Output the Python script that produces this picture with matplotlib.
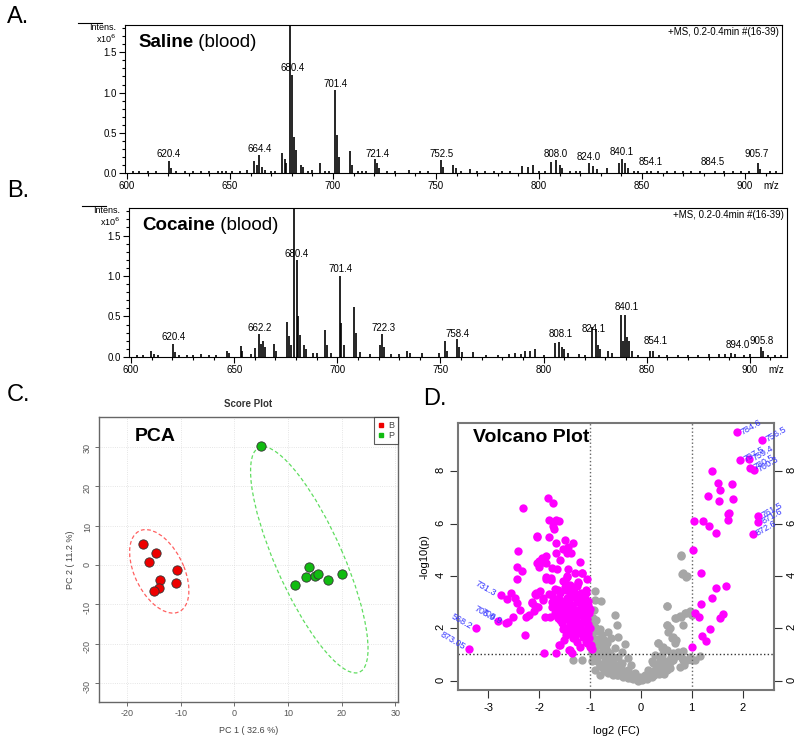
import matplotlib
matplotlib.use('Agg')
import matplotlib.pyplot as plt
import matplotlib.ticker as mticker
from matplotlib.patches import Ellipse
from matplotlib.lines import Line2D
import numpy as np

plt.rcParams['font.family'] = ['Liberation Sans', 'DejaVu Sans']
plt.rcParams['axes.unicode_minus'] = False

# ---------------- A. saline spectrum (m/z, intensity x10^6) ----------------
saline_mz = [603, 606, 610.0, 614, 620.3, 621.5, 624, 628, 632, 636, 640, 644, 646, 648,
             651, 655, 658, 661.6, 663.0, 664.2, 665.5, 667, 670, 672, 675.4, 676.5, 677.3,
             679.0, 680.3, 681.2, 682.0, 684.5, 685.5, 688, 690, 693.8, 696, 698, 701.1,
             702.0, 703, 708.2, 709, 712, 714, 716, 720.6, 721.5, 722.5, 726, 730, 737,
             742, 746, 752.6, 753.5, 758.3, 759.5, 762, 766.5, 770, 774, 778, 782, 786,
             791.8, 794.6, 797.0, 800, 803, 806.0, 808.3, 810.0, 811, 815, 818, 820, 824.4,
             826.4, 828, 832.9, 838.8, 840.5, 841.7, 843, 846, 848, 852.3, 854.4, 858, 862,
             866, 870, 874, 878, 885.4, 890, 894, 898, 902, 906.3, 907.5, 912, 915]
saline_int = [0.02, 0.02, 0.03, 0.02, 0.15, 0.06, 0.03, 0.02, 0.02, 0.03, 0.02, 0.03, 0.02, 0.03,
              0.03, 0.03, 0.04, 0.15, 0.10, 0.22, 0.08, 0.04, 0.02, 0.02, 0.25, 0.17, 0.12,
              2.0, 1.22, 0.45, 0.28, 0.10, 0.08, 0.03, 0.04, 0.13, 0.03, 0.02, 1.03,
              0.47, 0.20, 0.27, 0.10, 0.02, 0.03, 0.02, 0.17, 0.13, 0.06, 0.02, 0.03, 0.04,
              0.02, 0.03, 0.16, 0.08, 0.10, 0.06, 0.02, 0.05, 0.02, 0.02, 0.03, 0.02, 0.03,
              0.09, 0.07, 0.10, 0.02, 0.03, 0.14, 0.16, 0.10, 0.06, 0.03, 0.02, 0.03, 0.12,
              0.09, 0.05, 0.06, 0.13, 0.17, 0.12, 0.06, 0.03, 0.02, 0.03, 0.03, 0.02, 0.02,
              0.03, 0.02, 0.02, 0.02, 0.03, 0.02, 0.02, 0.03, 0.02, 0.12, 0.05, 0.02, 0.02]
saline_lbl = [620.4, 664.4, 680.4, 701.4, 721.4, 752.5, 808.0, 824.0, 840.1, 854.1, 884.5, 905.7]
saline_lbl_y = [0.17, 0.24, 1.24, 1.04, 0.18, 0.18, 0.18, 0.14, 0.20, 0.08, 0.075, 0.17]

# ---------------- B. cocaine spectrum ----------------
cocaine_mz = [603, 606, 609.7, 611, 613, 620.1, 621.2, 623, 627, 630, 633.9, 638, 641, 646.3,
              647.5, 653.1, 654, 658, 660.0, 662.0, 663.0, 664.1, 665.0, 669.3, 670.3, 675.6,
              676.6, 677.6, 679.0, 680.3, 681.1, 681.9, 683.8, 684.8, 688, 690, 693.9, 694.8,
              697, 701.1, 702.0, 703, 707.9, 708.9, 711, 716, 720.5, 721.8, 722.8, 726, 730,
              734.0, 735, 741.2, 749.3, 752.0, 753, 758.1, 759.2, 760.5, 765.7, 772, 778, 783,
              786, 789, 791.2, 793.6, 796.0, 800, 805.3, 807.7, 808.8, 810.0, 812, 817, 820,
              823.3, 825.4, 826.4, 827.5, 831.4, 833, 837.5, 838.5, 839.5, 840.5, 841.5, 843,
              846, 851.5, 853.1, 856, 860, 865, 870, 875, 880, 885, 888, 891, 893, 897, 900,
              905.2, 906.5, 909, 912, 915]
cocaine_int = [0.02, 0.02, 0.08, 0.04, 0.03, 0.16, 0.06, 0.03, 0.02, 0.03, 0.04, 0.03, 0.03, 0.07,
               0.05, 0.14, 0.08, 0.04, 0.11, 0.28, 0.16, 0.20, 0.12, 0.16, 0.07, 0.43,
               0.26, 0.15, 2.0, 1.20, 0.50, 0.27, 0.15, 0.10, 0.05, 0.05, 0.33, 0.15,
               0.05, 1.00, 0.42, 0.15, 0.62, 0.30, 0.06, 0.04, 0.15, 0.28, 0.12, 0.04, 0.04,
               0.08, 0.05, 0.05, 0.05, 0.20, 0.08, 0.22, 0.12, 0.06, 0.06, 0.03, 0.03, 0.04,
               0.05, 0.04, 0.08, 0.07, 0.10, 0.03, 0.17, 0.18, 0.12, 0.10, 0.05, 0.04, 0.03,
               0.37, 0.35, 0.15, 0.10, 0.08, 0.05, 0.52, 0.20, 0.52, 0.25, 0.20, 0.08,
               0.03, 0.08, 0.08, 0.03, 0.03, 0.03, 0.03, 0.03, 0.04, 0.04, 0.04, 0.05, 0.04, 0.03, 0.04,
               0.12, 0.08, 0.03, 0.02, 0.02]
cocaine_lbl = [620.4, 662.2, 680.4, 701.4, 722.3, 758.4, 808.1, 824.1, 840.1, 854.1, 894.0, 905.8]
cocaine_lbl_y = [0.18, 0.30, 1.21, 1.03, 0.30, 0.22, 0.22, 0.28, 0.55, 0.13, 0.09, 0.14]

# ---------------- C. PCA scores ----------------
pca_b_x = [-17.0, -14.6, -15.9, -10.6, -13.9, -10.8, -14.1, -14.9]
pca_b_y = [5.4, 3.0, 0.7, -1.2, -3.8, -4.5, -5.8, -6.6]
pca_p_x = [5.0, 13.9, 11.4, 13.4, 15.0, 15.6, 17.5, 20.0]
pca_p_y = [30.2, -0.5, -5.1, -3.0, -2.8, -2.3, -3.7, -2.2]

# ---------------- D. volcano ----------------
sig_x = [1.90, 2.38, 1.96, 2.13, 2.15, 2.22, 1.39, 1.52, 1.80, 1.33, 1.56, 1.54, 1.81, 1.73, 1.71,
         1.72, 1.04, 1.23, 1.34, 1.48, 2.31, 2.31, 2.20, 1.02, 1.18, 1.67, 1.48, 1.40, 1.18, 1.07,
         1.15, 1.61, 1.56, 1.36, 1.20, 1.29, 1.01,
         -2.32, -2.41, -2.43, -2.35, -2.43, -2.76, -2.63, -2.55, -2.48, -2.43, -2.37, -2.15, -2.09,
         -2.27, -2.20, -2.10, -2.51, -2.61, -2.66, -2.81, -3.25, -3.38, -2.28,
         -1.82, -1.73, -1.81, -1.67, -1.61, -1.73, -1.71, -2.04, -1.81, -1.67, -1.50, -1.33, -1.43,
         -1.53, -1.37, -1.46, -1.67, -1.87, -1.59, -1.20, -2.05, -1.93, -2.00, -1.74, -1.66, -1.43,
         -1.15, -1.87, -1.77, -1.45, -1.54, -1.23, -1.07, -1.40, -1.50, -1.63, -1.99, -2.07, -1.75,
         -1.59, -1.40, -1.31, -1.09, -1.92, -2.15, -1.75, -1.60, -1.46, -1.20, -1.04, -2.09, -1.74,
         -1.63, -1.50, -1.35, -1.17, -1.28, -1.14, -1.00, -1.69, -1.56, -1.43, -1.21, -1.08, -1.79,
         -1.63, -1.50, -1.36, -1.27, -1.07, -1.56, -1.40, -1.20, -1.04, -1.53, -1.37, -1.17, -1.07,
         -1.48, -1.31, -1.14, -1.02, -1.34, -1.26, -1.09, -0.99, -1.61, -1.52, -1.40, -1.36, -1.20,
         -1.91, -1.67, -0.97,
         -2.04, -2.01, -1.96, -1.94, -1.87, -2.07, -2.02, -1.93, -1.89, -1.76, -1.86, -1.59, -1.41,
         -1.30, -1.17, -1.07, -1.00, -1.24, -1.16,
         -1.50, -1.45, -1.35, -1.25, -1.55, -1.65, -1.30, -1.20, -1.10, -1.15, -1.30, -1.45, -1.60,
         -1.70, -1.80, -1.35, -1.25, -1.10, -1.05, -1.00, -1.05, -1.25, -1.40, -1.55, -1.65, -1.70,
         -1.50, -1.45, -1.30,
         -1.12, -1.18, -1.22, -1.32, -1.38, -1.42, -1.48, -1.52, -1.58, -1.62, -1.12, -1.28, -1.34,
         -1.46, -1.02, -1.08]
sig_y = [9.48, 9.20, 8.42, 8.46, 8.13, 8.05, 8.02, 7.56, 7.52, 7.05, 7.30, 6.86, 6.93, 6.42, 6.37,
         6.13, 6.11, 6.09, 5.92, 5.62, 6.30, 6.07, 5.59, 4.99, 4.10, 3.61, 3.54, 3.17, 2.94, 2.60,
         2.43, 2.53, 2.40, 1.96, 1.69, 1.51, 1.27,
         6.58, 4.95, 4.35, 4.20, 3.87, 3.27, 3.12, 3.36, 3.14, 2.95, 2.70, 2.98, 3.31,
         2.44, 2.51, 2.67, 2.44, 2.23, 2.19, 2.29, 2.00, 1.20, 1.74,
         6.96, 6.79, 6.13, 6.13, 6.11, 5.90, 5.78, 5.50, 5.50, 5.27, 5.39, 5.27, 5.09,
         5.01, 4.86, 4.86, 4.86, 4.76, 4.61, 4.54, 4.48, 4.54, 4.35, 4.29, 4.25, 4.25,
         4.12, 3.97, 3.91, 3.97, 3.82, 3.78, 3.87, 3.65, 3.59, 3.46, 3.44, 3.27, 3.27,
         3.33, 3.33, 3.40, 3.46, 3.14, 3.02, 3.02, 3.08, 3.14, 3.21, 3.05, 2.85, 2.82,
         2.85, 2.89, 2.82, 2.95, 2.70, 2.72, 2.72, 2.60, 2.63, 2.57, 2.51, 2.57, 2.44,
         2.38, 2.34, 2.38, 2.32, 2.34, 2.19, 2.16, 2.19, 2.16, 1.96, 2.00, 1.93, 1.96,
         1.74, 1.74, 1.68, 1.62, 1.62, 1.49, 1.49, 1.36, 1.36, 1.55, 1.17, 1.07, 1.30,
         1.04, 1.04, 1.20,
         5.52, 4.58, 4.58, 4.67, 4.48, 3.33, 2.80, 3.08, 2.44, 3.84, 3.88, 1.36, 1.15,
         1.68, 1.81, 1.42, 1.30, 3.74, 4.10,
         3.00, 2.70, 2.90, 3.00, 2.90, 3.10, 2.50, 2.75, 2.50, 2.20, 2.10, 2.00, 2.30,
         2.80, 3.30, 3.50, 3.60, 3.10, 2.90, 2.00, 1.80, 1.85, 1.85, 2.50, 2.45, 3.50,
         3.80, 4.00, 4.10,
         2.35, 3.35, 2.05, 2.25, 2.60, 3.10, 3.45, 2.65, 2.75, 2.95, 1.70, 1.95, 3.20,
         2.45, 2.60, 3.35]
ns_x = [0.78, 0.83, 0.90, 0.51, 0.89, 0.98, 0.69, 0.78, 0.51, 0.57, 0.62, 0.70, 0.34, 0.44, 0.51,
        0.82, 0.96, 1.06, 1.16, 1.00, 0.24, 0.14, 0.37, 0.51, 0.64, 0.57, 0.31, 0.08, 0.01, 0.21,
        0.44, 0.77, 0.83, 1.00,
        -0.91, -0.91, -0.79, -0.51, -0.48, -0.91, -0.81, -0.64, -0.77, -0.58, -0.45, -0.32, -0.71,
        -0.84, -0.94, -0.51, -0.38, -0.64, -0.81, -0.45, -0.25, -0.87, -0.71, -0.54, -0.38, -0.19,
        -0.91, -0.74, -0.58, -0.41, -0.25, -0.12, -0.02, 0.08, -0.81, -0.64, -0.48, -0.32, -0.19,
        -0.06, -0.97, -0.97, -0.97, -0.94, 0.14, 0.24, 0.31, 0.38, 0.47, 0.51, 0.33, 0.42, 0.51,
        0.54, 0.64, 0.67, 0.74, 0.80, 0.51, 0.67, 0.77, 0.83, 0.87, 0.97, 0.80, 0.89, 0.79, 0.41,
        0.60, 0.28, 0.21, 0.64,
        -0.60, -0.50, -0.40, -0.30, -0.20, -0.10, 0.00, 0.05, 0.10, 0.20, 0.30, 0.35, -0.70, -0.60,
        -0.90, -0.85, -0.95, -0.92, -0.88, -0.75, -0.80, -0.70, -0.55, -0.45, -0.35, -0.25, -0.15,
        0.45, 0.55, 0.60, 0.70, 0.85, 0.90, -1.34, -1.16,
        -0.95, -0.90, -0.85, -0.80, -0.75, -0.70, -0.65, -0.60, -0.55, -0.50, -0.45, -0.40, -0.35,
        -0.30, -0.28, -0.22, -0.18, -0.12, -0.08, -0.04, 0.02, 0.06, 0.12, 0.16, 0.22, 0.26, 0.30,
        0.36, 0.40, 0.46, -0.92, -0.86, -0.78, -0.68, -0.62, -0.52, -0.42, -0.96, -0.88, -0.72,
        -0.66, -0.56]
ns_y = [4.78, 4.12, 4.01, 2.84, 2.57, 2.53, 2.38, 2.42, 2.12, 2.00, 1.62, 1.55, 1.42, 1.30, 1.17,
        1.13, 0.92, 0.79, 0.94, 0.77, 0.66, 0.41, 0.79, 0.73, 0.79, 0.47, 0.41, 0.22, 0.09, 0.28,
        0.34, 0.53, 0.79, 2.50,
        3.42, 3.08, 3.04, 2.51, 2.13, 2.06, 1.97, 1.85, 1.75, 1.64, 1.68, 1.39, 1.36,
        1.43, 1.23, 1.23, 1.10, 1.10, 0.98, 0.92, 0.85, 0.73, 0.75, 0.73, 0.66, 0.60,
        0.41, 0.47, 0.41, 0.41, 0.41, 0.28, 0.15, 0.09, 0.22, 0.28, 0.22, 0.22, 0.09,
        0.00, 0.73, 1.10, 1.62, 1.87, 0.22, 0.35, 0.60, 0.41, 0.60, 0.41, 1.43, 1.23, 2.13,
        1.87, 1.68, 1.43, 1.10, 0.85, 2.84, 2.39, 2.45, 2.13, 2.58, 2.64, 4.07, 3.97, 4.77, 0.98,
        0.73, 0.98, 0.73, 1.04,
        0.50, 0.60, 0.50, 0.30, 0.20, 0.10, 0.05, 0.05, 0.15, 0.25, 0.30, 0.50, 0.90, 1.00,
        1.30, 1.60, 2.40, 2.70, 1.90, 1.20, 0.60, 0.35, 0.20, 0.30, 0.15, 0.10, 0.05,
        0.25, 0.60, 0.90, 0.95, 0.60, 0.80, 0.79, 0.79,
        0.95, 0.85, 1.05, 0.55, 0.65, 0.45, 0.75, 0.35, 0.45, 0.30, 0.20, 0.35, 0.25,
        0.18, 0.30, 0.12, 0.20, 0.08, 0.15, 0.02, 0.03, 0.08, 0.06, 0.15, 0.12, 0.20, 0.45,
        0.25, 0.55, 0.45, 1.55, 1.35, 1.45, 1.20, 0.65, 0.55, 0.62, 2.20, 2.30, 1.55,
        1.45, 0.95]

# labelled features
right_lbl = ['784.6', '756.5', '797.5', '759.4', '780.5', '760.3', '761.5', '871.6', '872.6']
right_lbl_x = [1.90, 2.38, 1.96, 2.13, 2.15, 2.22, 2.31, 2.31, 2.20]
right_lbl_y = [9.48, 9.20, 8.42, 8.46, 8.13, 8.05, 6.30, 6.07, 5.59]
left_lbl = ['731.3', '705.9', '708.9', '568.2', '873.05']
left_lbl_x = [-2.78, -2.81, -2.66, -3.25, -3.38]
left_lbl_y = [3.26, 2.29, 2.19, 2.00, 1.20]


fig = plt.figure(figsize=(8, 7.47), dpi=100)


def draw_spectrum(ax, mz, inten, lbl, lbl_y, name):
    ax.vlines(mz, 0, inten, color='black', lw=1.2)
    ax.set_xlim(599, 918)
    ax.set_ylim(0, 1.84)
    ax.xaxis.set_major_locator(mticker.MultipleLocator(50))
    ax.xaxis.set_minor_locator(mticker.MultipleLocator(10))
    ax.yaxis.set_major_locator(mticker.MultipleLocator(0.5))
    ax.yaxis.set_minor_locator(mticker.MultipleLocator(0.1))
    ax.yaxis.set_major_formatter(mticker.FormatStrFormatter('%.1f'))
    ax.tick_params(which='both', direction='out', labelsize=7, width=0.8, pad=2)
    ax.tick_params(which='major', length=4)
    ax.tick_params(which='minor', length=2)
    for s in ax.spines.values():
        s.set_linewidth(0.8)
    for x, y in zip(lbl, lbl_y):
        ax.text(x, y, f'{x:.1f}', ha='center', va='bottom', fontsize=7)
    ax.text(0.995, 0.985, '+MS, 0.2-0.4min #(16-39)', transform=ax.transAxes,
            ha='right', va='top', fontsize=7)
    ax.text(0.984, -0.085, 'm/z', transform=ax.transAxes, ha='center', va='center', fontsize=7)
    ax.text(-0.013, 0.985, 'Intens.', transform=ax.transAxes, ha='right', va='center', fontsize=6.5)
    ax.text(-0.013, 0.91, 'x10$^6$', transform=ax.transAxes, ha='right', va='center', fontsize=6.5)
    ax.plot([-0.072, -0.035], [1.015, 1.015], transform=ax.transAxes, color='black',
            lw=0.8, clip_on=False)
    t = ax.text(0.02, 0.885, name, transform=ax.transAxes, ha='left', va='center',
                fontsize=13.5, fontweight='bold')
    ax.annotate(' (blood)', xy=(1, 0), xycoords=t, ha='left', va='bottom', fontsize=13.5)


ax_a = fig.add_axes([0.15625, 0.7684, 0.82125, 0.1981])
draw_spectrum(ax_a, saline_mz, saline_int, saline_lbl, saline_lbl_y, 'Saline')
ax_b = fig.add_axes([0.16125, 0.5221, 0.8225, 0.1995])
draw_spectrum(ax_b, cocaine_mz, cocaine_int, cocaine_lbl, cocaine_lbl_y, 'Cocaine')

# ---------------- PCA ----------------
ax_c = fig.add_axes([0.12375, 0.0602, 0.37375, 0.3815])


def conf_ellipse(ax, x, y, color):
    # 95% ellipse from the group covariance
    cov = np.cov(x, y)
    vals, vecs = np.linalg.eigh(cov)
    order = vals.argsort()[::-1]
    vals, vecs = vals[order], vecs[:, order]
    angle = np.degrees(np.arctan2(vecs[1, 0], vecs[0, 0]))
    w, h = 2 * np.sqrt(5.991 * vals)
    ax.add_patch(Ellipse((np.mean(x), np.mean(y)), w, h, angle=angle, fill=False,
                         ls=(0, (3, 2)), color=color, lw=0.9))


conf_ellipse(ax_c, pca_b_x, pca_b_y, '#ff6060')
conf_ellipse(ax_c, pca_p_x, pca_p_y, '#60dd60')
ax_c.scatter(pca_b_x, pca_b_y, s=45, color='#ee0000', edgecolors='#333333', linewidths=0.6, zorder=3)
ax_c.scatter(pca_p_x, pca_p_y, s=45, color='#11bb11', edgecolors='#333333', linewidths=0.6, zorder=3)
ax_c.set_xlim(-25.2, 30.5)
ax_c.set_ylim(-34.8, 37.6)
ax_c.set_xticks([-20, -10, 0, 10, 20, 30])
ax_c.set_yticks([-30, -20, -10, 0, 10, 20, 30])
ax_c.grid(True, color='#dddddd', lw=0.6, ls=':')
ax_c.set_axisbelow(True)
ax_c.tick_params(labelsize=6.5, colors='#555555', length=3, width=0.6, pad=2)
ax_c.tick_params(axis='y', labelrotation=90)
for s in ax_c.spines.values():
    s.set_color('#666666')
    s.set_linewidth(1.0)
ax_c.set_title('Score Plot', fontsize=7, fontweight='bold', color='#333333', pad=7)
ax_c.set_xlabel('PC 1 ( 32.6 %)', fontsize=6.5, color='#444444', labelpad=6)
ax_c.set_ylabel('PC 2 ( 11.2 %)', fontsize=6.5, color='#444444', labelpad=6)
ax_c.text(0.12, 0.93, 'PCA', transform=ax_c.transAxes, fontsize=14, fontweight='bold',
          ha='left', va='center')
handles = [Line2D([], [], ls='none', marker='s', ms=3, color='#ee0000', label='B'),
           Line2D([], [], ls='none', marker='s', ms=3, color='#11bb11', label='P')]
leg = ax_c.legend(handles=handles, loc='upper right', fontsize=6.5, borderaxespad=0,
                  fancybox=False, edgecolor='#333333', handlelength=0.8, handletextpad=0.4,
                  borderpad=0.4, labelspacing=0.2)
leg.get_frame().set_linewidth(0.8)
for txt in leg.get_texts():
    txt.set_color('#444444')

# ---------------- Volcano ----------------
ax_d = fig.add_axes([0.5725, 0.0763, 0.395, 0.3574])
ax_d.scatter(ns_x, ns_y, s=36, color='#a6a6a6', linewidths=0, zorder=2)
ax_d.scatter(sig_x, sig_y, s=36, color='#ff00ff', linewidths=0, zorder=3)
ax_d.axvline(-1, color='#666666', ls=':', lw=1.0)
ax_d.axvline(1, color='#666666', ls=':', lw=1.0)
ax_d.axhline(1, color='#333333', ls=':', lw=1.0)
ax_d.set_xlim(-3.6, 2.62)
ax_d.set_ylim(-0.36, 9.84)
ax_d.set_xticks([-3, -2, -1, 0, 1, 2])
ax_d.set_yticks([0, 2, 4, 6, 8])
ax_d.tick_params(labelsize=8, length=6, width=0.8, color='#333333', pad=3,
                 right=True, labelright=True)
ax_d.tick_params(axis='y', labelrotation=90)
for s in ax_d.spines.values():
    s.set_color('#777777')
    s.set_linewidth(1.5)
ax_d.set_xlabel('log2 (FC)', fontsize=8, labelpad=10)
ax_d.set_ylabel('-log10(p)', fontsize=8, labelpad=4)
ax_d.text(0.047, 0.947, 'Volcano Plot', transform=ax_d.transAxes, fontsize=14,
          fontweight='bold', ha='left', va='center', zorder=5)
for s, x, y in zip(right_lbl, right_lbl_x, right_lbl_y):
    ax_d.annotate(s, (x, y), xytext=(3, 0), textcoords='offset points', rotation=30,
                  rotation_mode='anchor', ha='left', va='center', fontsize=6.5,
                  color='#3333ff', annotation_clip=False)
for s, x, y in zip(left_lbl, left_lbl_x, left_lbl_y):
    ax_d.annotate(s, (x, y), xytext=(-3, 1), textcoords='offset points', rotation=-30,
                  rotation_mode='anchor', ha='right', va='center', fontsize=6.5,
                  color='#3333ff', annotation_clip=False)

# panel letters
fig.text(0.009, 0.977, 'A.', fontsize=17, va='center')
fig.text(0.009, 0.744, 'B.', fontsize=17, va='center')
fig.text(0.009, 0.471, 'C.', fontsize=17, va='center')
fig.text(0.529, 0.466, 'D.', fontsize=17, va='center')

fig.savefig('out.png', dpi=100)
